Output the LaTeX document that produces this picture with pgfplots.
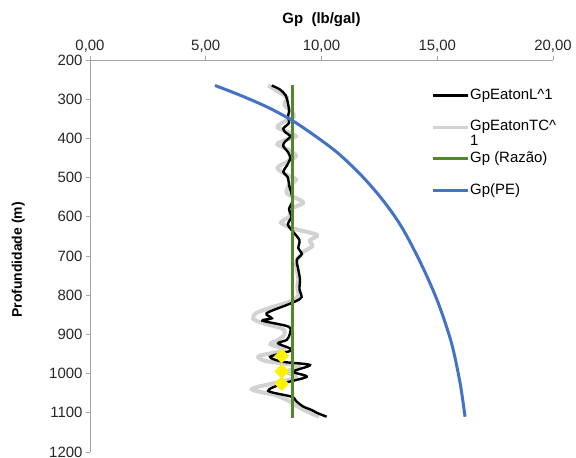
\documentclass[border=0pt]{standalone}
\usepackage{pgfplots}
\pgfplotsset{compat=1.18}
\usepackage{fontspec}
\setmainfont{Liberation Sans}
\definecolor{gpblue}{HTML}{4472C4}
\definecolor{gpgreen}{HTML}{4E8A2C}
\definecolor{gpgray}{HTML}{D2D2D2}
\definecolor{axgray}{HTML}{A6A6A6}
\begin{document}
\begin{tikzpicture}
\useasboundingbox (-90bp,-6bp) rectangle (486bp,452bp);
\begin{axis}[
 scale only axis, width=463bp, height=392bp,
 xmin=0, xmax=20, ymin=200, ymax=1200, y dir=reverse,
 axis x line=top, axis y line=left,
 axis line style={-, draw=axgray, line width=0.8bp},
 xtick={0,5,...,20}, ytick={200,300,...,1200},
 tick align=outside, major tick length=4bp,
 every tick/.style={draw=axgray, line width=0.8bp},
 /pgf/number format/assume math mode=true,
 xticklabel style={/pgf/number format/.cd, fixed, fixed zerofill, precision=2, use comma},
 yticklabel style={/pgf/number format/1000 sep={}},
 ticklabel style={font=\fontsize{15}{17}\selectfont, text=black!85},
 xlabel={Gp\ \ (lb/gal)}, ylabel={Profundidade (m)},
 every axis x label/.style={at={(axis description cs:0.5,1.102)}, anchor=center, font=\fontsize{15}{17}\selectfont\bfseries},
 every axis y label/.style={at={(axis description cs:-0.155,0.49)}, anchor=center, rotate=90, font=\fontsize{14}{16}\selectfont\bfseries},
 legend style={at={(axis description cs:0.73,0.936)}, anchor=north west, draw=none, fill=none,
   font=\fontsize{15}{15}\selectfont, row sep=15.2bp,
   nodes={inner sep=1bp, text height=11bp, text depth=3.5bp}},
 legend cell align=left,
 legend image code/.code={\draw[#1] (0bp,0bp) -- (35bp,0bp);},
 clip=false,
]
% GpEatonTC^1 (gray)
\addplot[gpgray, line width=4bp, smooth, forget plot] coordinates {
(7.7,265) (8.1,280) (8.5,295) (8.4,315) (8.7,330) (8.8,345) (8.3,360) (8.1,372) (8.6,385) (8.9,395)
(8.4,405) (8.1,415) (8.6,430) (8.9,445) (8.5,460) (8.1,475) (8.4,490) (8.9,505) (8.6,520) (8.5,540)
(9.0,555) (9.2,565) (8.7,580) (8.6,600) (8.25,615) (8.8,630) (9.8,646) (9.5,660) (9.6,675) (9.2,690)
(9.0,705) (8.9,720) (8.95,740) (9.0,760) (8.95,780) (9.0,800) (8.7,815) (7.9,830) (7.2,845) (7.05,860)
(7.5,872) (8.3,885) (8.4,900) (8.1,915) (7.8,925) (8.4,940) (7.3,955) (7.6,968) (9.0,980) (8.5,995)
(8.9,1010) (7.9,1025) (7.0,1040) (8.0,1055) (8.6,1070) (9.0,1085) (9.5,1100) (9.9,1110)
};
% GpEatonL^1 (black)
\addplot[black, line width=2.4bp, smooth, forget plot] coordinates {
(7.85,265) (8.2,275) (8.45,290) (8.55,310) (8.6,330) (8.55,345) (8.6,360) (8.35,375) (8.45,385) (8.65,395)
(8.4,410) (8.35,420) (8.55,435) (8.65,450) (8.5,470) (8.35,485) (8.55,500) (8.6,520) (8.7,540) (8.75,560)
(8.6,580) (8.7,600) (8.55,620) (8.8,640) (9.05,660) (9.0,680) (9.15,695) (8.93,710) (9.0,735) (9.07,760)
(9.05,785) (9.14,805) (8.9,815) (8.5,825) (7.63,846) (7.85,859) (7.45,865) (8.57,880) (8.64,897) (8.5,914)
(8.13,923) (8.71,940) (7.78,957) (8.35,970) (9.5,978) (8.78,995) (9.36,1008) (8.35,1025) (7.7,1044) (8.71,1059)
(8.9,1070) (9.21,1084) (9.58,1093) (9.8,1100) (10.22,1110)
};
% Gp (Razao)
\addplot[gpgreen, line width=3bp, forget plot] coordinates {(8.75,265) (8.75,1112)};
% yellow points
\addplot[only marks, mark=square*, mark size=5bp, mark options={rotate=45, fill=yellow, draw=yellow}, forget plot]
 coordinates {(8.28,955) (8.28,994) (8.28,1026)};
% Gp(PE)
\addplot[gpblue, line width=3bp, smooth, forget plot] coordinates {
(5.40,265) (6.45,289) (7.62,319) (8.70,353) (9.78,396) (10.72,438) (11.65,490) (12.41,540)
(13.06,590) (13.62,642) (14.36,727) (15.05,821) (15.62,923) (15.99,1025) (16.2,1110)
};
\addlegendimage{black, line width=3bp}
\addlegendentry{GpEatonL\textasciicircum 1}
\addlegendimage{gpgray, line width=3bp}
\addlegendentry{\smash{\begin{tabular}[t]{@{}l@{}}GpEatonTC\textasciicircum\\1\end{tabular}}}
\addlegendimage{gpgreen, line width=3bp}
\addlegendentry{Gp (Razão)}
\addlegendimage{gpblue, line width=3bp}
\addlegendentry{Gp(PE)}
\end{axis}
\end{tikzpicture}
\end{document}
